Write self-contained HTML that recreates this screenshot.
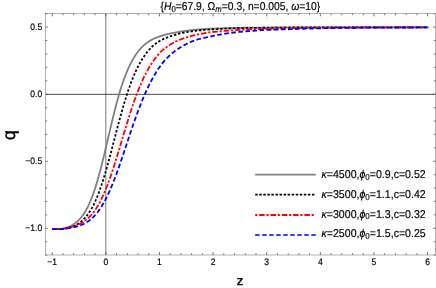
<!DOCTYPE html>
<html><head><meta charset="utf-8"><title>plot</title>
<style>
html,body{margin:0;padding:0;background:#fff;}
body{width:436px;height:288px;overflow:hidden;font-family:"Liberation Sans",sans-serif;}
svg{display:block;will-change:transform;}
text{text-rendering:geometricPrecision;font-family:"Liberation Sans",sans-serif;fill:#000;}
.tl{font-size:9.4px;stroke:#000;stroke-width:0.17px;}
.lg{font-size:11.4px;stroke:#000;stroke-width:0.17px;}
.it{font-style:italic;}
</style></head><body>
<svg width="436" height="288" viewBox="0 0 436 288">
<rect x="0" y="0" width="436" height="288" fill="#fff"/>

<line x1="105.82" y1="13.5" x2="105.82" y2="255.0" stroke="#666" stroke-width="0.88"/>
<line x1="45.5" y1="94.35" x2="435.5" y2="94.35" stroke="#2a2a2a" stroke-width="0.85"/>
<g fill="none" stroke-width="1.8" stroke-linejoin="round">
<path d="M52.30,229.00 L52.48,229.03 L52.84,229.05 L53.20,229.08 L53.56,229.09 L53.92,229.11 L54.28,229.13 L54.64,229.14 L55.00,229.15 L55.36,229.15 L55.72,229.16 L56.08,229.16 L56.44,229.16 L56.81,229.15 L57.17,229.14 L57.53,229.13 L57.89,229.12 L58.25,229.10 L58.61,229.08 L58.97,229.06 L59.33,229.03 L59.69,229.01 L60.05,228.97 L60.41,228.94 L60.77,228.90 L61.13,228.85 L61.49,228.80 L61.86,228.75 L62.22,228.69 L62.58,228.63 L62.94,228.56 L63.30,228.48 L63.66,228.40 L64.02,228.32 L64.38,228.23 L64.74,228.13 L65.10,228.03 L65.46,227.93 L65.82,227.82 L66.18,227.70 L66.54,227.59 L66.90,227.46 L67.27,227.34 L67.63,227.21 L67.99,227.07 L68.35,226.93 L68.71,226.78 L69.07,226.63 L69.43,226.47 L69.79,226.31 L70.15,226.14 L70.51,225.96 L70.87,225.78 L71.23,225.60 L71.59,225.40 L71.95,225.21 L72.32,225.00 L72.68,224.79 L73.04,224.57 L73.40,224.34 L73.76,224.11 L74.12,223.87 L74.48,223.62 L74.84,223.36 L75.20,223.10 L75.56,222.83 L75.92,222.55 L76.28,222.26 L76.64,221.96 L77.00,221.65 L77.37,221.34 L77.73,221.01 L78.09,220.68 L78.45,220.33 L78.81,219.97 L79.17,219.61 L79.53,219.23 L79.89,218.84 L80.25,218.44 L80.61,218.03 L80.97,217.60 L81.33,217.17 L81.69,216.72 L82.05,216.25 L82.42,215.78 L82.78,215.29 L83.14,214.78 L83.50,214.26 L83.86,213.73 L84.22,213.18 L84.58,212.62 L84.94,212.04 L85.30,211.44 L85.66,210.83 L86.02,210.20 L86.38,209.56 L86.74,208.90 L87.10,208.22 L87.46,207.53 L87.83,206.81 L88.19,206.08 L88.55,205.33 L88.91,204.56 L89.27,203.78 L89.63,202.97 L89.99,202.15 L90.35,201.31 L90.71,200.44 L91.07,199.56 L91.43,198.66 L91.79,197.74 L92.15,196.80 L92.51,195.83 L92.88,194.85 L93.24,193.85 L93.60,192.82 L93.96,191.78 L94.32,190.72 L94.68,189.63 L95.04,188.52 L95.40,187.40 L95.76,186.25 L96.12,185.09 L96.48,183.90 L96.84,182.70 L97.20,181.47 L97.56,180.23 L97.93,178.97 L98.29,177.69 L98.65,176.40 L99.01,175.09 L99.37,173.76 L99.73,172.41 L100.09,171.05 L100.45,169.68 L100.81,168.29 L101.17,166.88 L101.53,165.47 L101.89,164.04 L102.25,162.60 L102.61,161.15 L102.98,159.68 L103.34,158.21 L103.70,156.73 L104.06,155.24 L104.42,153.74 L104.78,152.24 L105.14,150.72 L105.50,149.21 L106.31,145.78 L107.12,142.34 L107.92,138.89 L108.73,135.43 L109.54,131.98 L110.35,128.55 L111.16,125.14 L111.97,121.76 L112.77,118.42 L113.58,115.12 L114.39,111.88 L115.20,108.70 L116.01,105.57 L116.82,102.52 L117.62,99.54 L118.43,96.64 L119.24,93.82 L120.05,91.10 L120.86,88.48 L121.67,85.95 L122.47,83.51 L123.28,81.16 L124.09,78.90 L124.90,76.73 L125.71,74.65 L126.52,72.65 L127.32,70.73 L128.13,68.88 L128.94,67.11 L129.75,65.41 L130.56,63.77 L131.36,62.19 L132.17,60.68 L132.98,59.22 L133.79,57.84 L134.60,56.51 L135.41,55.25 L136.21,54.04 L137.02,52.90 L137.83,51.81 L138.64,50.78 L139.45,49.80 L140.26,48.88 L141.06,48.00 L141.87,47.16 L142.68,46.37 L143.49,45.62 L144.30,44.91 L145.11,44.23 L145.91,43.59 L146.72,42.98 L147.53,42.39 L148.34,41.84 L149.15,41.31 L149.95,40.80 L150.76,40.33 L151.57,39.88 L152.38,39.45 L153.19,39.04 L154.00,38.65 L154.80,38.28 L155.61,37.93 L156.42,37.59 L157.23,37.27 L158.04,36.96 L158.85,36.67 L159.65,36.38 L160.46,36.11 L161.27,35.85 L162.08,35.59 L162.89,35.35 L163.70,35.11 L164.50,34.89 L165.31,34.68 L166.12,34.47 L166.93,34.28 L167.74,34.09 L168.55,33.91 L169.35,33.73 L170.16,33.56 L170.97,33.39 L171.78,33.23 L172.59,33.08 L173.39,32.92 L174.20,32.77 L175.01,32.61 L175.82,32.46 L176.63,32.31 L177.44,32.17 L178.24,32.02 L179.05,31.88 L179.86,31.74 L180.67,31.61 L181.48,31.48 L182.29,31.36 L183.09,31.24 L183.90,31.12 L184.71,31.01 L185.52,30.90 L186.33,30.78 L187.14,30.67 L187.94,30.57 L188.75,30.46 L189.56,30.36 L190.37,30.27 L191.18,30.17 L191.98,30.08 L192.79,29.99 L193.60,29.91 L194.41,29.83 L195.22,29.76 L196.03,29.69 L196.83,29.62 L197.64,29.56 L198.45,29.49 L199.26,29.43 L200.07,29.37 L200.88,29.32 L201.68,29.26 L202.49,29.21 L203.30,29.16 L204.11,29.11 L204.92,29.06 L205.73,29.02 L206.53,28.97 L207.34,28.93 L208.15,28.89 L208.96,28.84 L209.77,28.80 L210.58,28.76 L211.38,28.73 L212.19,28.69 L213.00,28.65 L213.81,28.61 L214.62,28.58 L215.42,28.54 L216.23,28.51 L217.04,28.47 L217.85,28.44 L218.66,28.41 L219.47,28.38 L220.27,28.34 L221.08,28.31 L221.89,28.28 L222.70,28.25 L223.51,28.23 L224.32,28.20 L225.12,28.17 L225.93,28.14 L226.74,28.12 L227.55,28.09 L228.36,28.07 L229.17,28.05 L229.97,28.02 L230.78,28.00 L231.59,27.98 L232.40,27.96 L233.21,27.94 L234.02,27.92 L234.82,27.90 L235.63,27.89 L236.44,27.87 L237.25,27.86 L238.06,27.84 L238.86,27.83 L239.67,27.82 L240.48,27.81 L241.29,27.80 L242.10,27.79 L242.91,27.78 L243.71,27.77 L244.52,27.76 L245.33,27.75 L246.14,27.74 L246.95,27.73 L247.76,27.72 L248.56,27.72 L249.37,27.71 L250.18,27.70 L250.99,27.69 L251.80,27.68 L252.61,27.68 L253.41,27.67 L254.22,27.66 L255.03,27.66 L255.84,27.65 L256.65,27.64 L257.45,27.64 L258.26,27.63 L259.07,27.62 L259.88,27.62 L260.69,27.61 L261.50,27.60 L262.30,27.60 L263.11,27.59 L263.92,27.59 L264.73,27.58 L265.54,27.57 L266.35,27.57 L267.15,27.56 L267.96,27.56 L268.77,27.55 L269.58,27.55 L270.39,27.54 L271.20,27.54 L272.00,27.53 L272.81,27.53 L273.62,27.52 L274.43,27.51 L275.24,27.51 L276.05,27.51 L276.85,27.50 L277.66,27.50 L278.47,27.49 L279.28,27.49 L280.09,27.48 L280.89,27.48 L281.70,27.47 L282.51,27.47 L283.32,27.47 L284.13,27.46 L284.94,27.46 L285.74,27.45 L286.55,27.45 L287.36,27.45 L288.17,27.44 L288.98,27.44 L289.79,27.44 L290.59,27.44 L291.40,27.43 L292.21,27.43 L293.02,27.43 L293.83,27.43 L294.64,27.42 L295.44,27.42 L296.25,27.42 L297.06,27.42 L297.87,27.42 L298.68,27.41 L299.48,27.41 L300.29,27.41 L301.10,27.41 L301.91,27.41 L302.72,27.41 L303.53,27.41 L304.33,27.41 L305.14,27.41 L305.95,27.40 L306.76,27.40 L307.57,27.40 L308.38,27.40 L309.18,27.40 L309.99,27.40 L310.80,27.40 L311.61,27.40 L312.42,27.40 L313.23,27.40 L314.03,27.40 L314.84,27.40 L315.65,27.39 L316.46,27.39 L317.27,27.39 L318.08,27.39 L318.88,27.39 L319.69,27.39 L320.50,27.39 L321.31,27.39 L322.12,27.39 L322.92,27.39 L323.73,27.39 L324.54,27.39 L325.35,27.39 L326.16,27.39 L326.97,27.39 L327.77,27.39 L328.58,27.39 L329.39,27.38 L330.20,27.38 L331.01,27.38 L331.82,27.38 L332.62,27.38 L333.43,27.38 L334.24,27.38 L335.05,27.38 L335.86,27.38 L336.67,27.38 L337.47,27.38 L338.28,27.38 L339.09,27.38 L339.90,27.38 L340.71,27.38 L341.52,27.38 L342.32,27.38 L343.13,27.38 L343.94,27.38 L344.75,27.38 L345.56,27.38 L346.36,27.38 L347.17,27.38 L347.98,27.38 L348.79,27.37 L349.60,27.37 L350.41,27.37 L351.21,27.37 L352.02,27.37 L352.83,27.37 L353.64,27.37 L354.45,27.37 L355.26,27.37 L356.06,27.37 L356.87,27.37 L357.68,27.37 L358.49,27.37 L359.30,27.37 L360.11,27.37 L360.91,27.37 L361.72,27.37 L362.53,27.37 L363.34,27.37 L364.15,27.37 L364.95,27.37 L365.76,27.37 L366.57,27.37 L367.38,27.37 L368.19,27.37 L369.00,27.37 L369.80,27.37 L370.61,27.37 L371.42,27.37 L372.23,27.37 L373.04,27.37 L373.85,27.37 L374.65,27.37 L375.46,27.37 L376.27,27.37 L377.08,27.37 L377.89,27.37 L378.70,27.37 L379.50,27.37 L380.31,27.37 L381.12,27.37 L381.93,27.37 L382.74,27.37 L383.55,27.37 L384.35,27.37 L385.16,27.37 L385.97,27.36 L386.78,27.36 L387.59,27.36 L388.39,27.36 L389.20,27.36 L390.01,27.36 L390.82,27.36 L391.63,27.36 L392.44,27.36 L393.24,27.36 L394.05,27.36 L394.86,27.36 L395.67,27.36 L396.48,27.36 L397.29,27.36 L398.09,27.36 L398.90,27.36 L399.71,27.36 L400.52,27.36 L401.33,27.36 L402.14,27.36 L402.94,27.36 L403.75,27.36 L404.56,27.36 L405.37,27.36 L406.18,27.36 L406.98,27.36 L407.79,27.36 L408.60,27.36 L409.41,27.36 L410.22,27.36 L411.03,27.36 L411.83,27.36 L412.64,27.36 L413.45,27.36 L414.26,27.36 L415.07,27.36 L415.88,27.36 L416.68,27.36 L417.49,27.36 L418.30,27.36 L419.11,27.36 L419.92,27.36 L420.73,27.36 L421.53,27.36 L422.34,27.36 L423.15,27.36 L423.96,27.36 L424.77,27.36 L425.58,27.36 L426.38,27.36 L427.19,27.36 L428.00,27.36 L428.60,27.36" stroke="#808080"/>
<path d="M52.30,229.00 L52.48,229.03 L52.84,229.06 L53.20,229.08 L53.56,229.10 L53.92,229.12 L54.28,229.14 L54.64,229.15 L55.00,229.17 L55.36,229.18 L55.72,229.19 L56.08,229.20 L56.44,229.21 L56.81,229.21 L57.17,229.21 L57.53,229.21 L57.89,229.21 L58.25,229.20 L58.61,229.20 L58.97,229.19 L59.33,229.18 L59.69,229.17 L60.05,229.16 L60.41,229.14 L60.77,229.12 L61.13,229.10 L61.49,229.08 L61.86,229.05 L62.22,229.01 L62.58,228.98 L62.94,228.94 L63.30,228.89 L63.66,228.84 L64.02,228.79 L64.38,228.73 L64.74,228.67 L65.10,228.60 L65.46,228.54 L65.82,228.47 L66.18,228.39 L66.54,228.32 L66.90,228.24 L67.27,228.16 L67.63,228.07 L67.99,227.98 L68.35,227.89 L68.71,227.79 L69.07,227.69 L69.43,227.59 L69.79,227.48 L70.15,227.37 L70.51,227.26 L70.87,227.14 L71.23,227.02 L71.59,226.89 L71.95,226.76 L72.32,226.63 L72.68,226.49 L73.04,226.34 L73.40,226.19 L73.76,226.04 L74.12,225.88 L74.48,225.71 L74.84,225.54 L75.20,225.37 L75.56,225.19 L75.92,225.00 L76.28,224.81 L76.64,224.61 L77.00,224.41 L77.37,224.19 L77.73,223.98 L78.09,223.75 L78.45,223.52 L78.81,223.29 L79.17,223.04 L79.53,222.79 L79.89,222.53 L80.25,222.26 L80.61,221.99 L80.97,221.70 L81.33,221.41 L81.69,221.11 L82.05,220.80 L82.42,220.48 L82.78,220.15 L83.14,219.81 L83.50,219.46 L83.86,219.10 L84.22,218.73 L84.58,218.35 L84.94,217.96 L85.30,217.56 L85.66,217.15 L86.02,216.72 L86.38,216.29 L86.74,215.84 L87.10,215.38 L87.46,214.91 L87.83,214.43 L88.19,213.93 L88.55,213.42 L88.91,212.90 L89.27,212.36 L89.63,211.81 L89.99,211.25 L90.35,210.67 L90.71,210.08 L91.07,209.48 L91.43,208.86 L91.79,208.22 L92.15,207.57 L92.51,206.91 L92.88,206.23 L93.24,205.53 L93.60,204.82 L93.96,204.09 L94.32,203.34 L94.68,202.58 L95.04,201.80 L95.40,201.00 L95.76,200.19 L96.12,199.36 L96.48,198.52 L96.84,197.65 L97.20,196.78 L97.56,195.88 L97.93,194.97 L98.29,194.04 L98.65,193.09 L99.01,192.13 L99.37,191.16 L99.73,190.16 L100.09,189.15 L100.45,188.13 L100.81,187.09 L101.17,186.03 L101.53,184.96 L101.89,183.87 L102.25,182.77 L102.61,181.66 L102.98,180.53 L103.34,179.38 L103.70,178.23 L104.06,177.06 L104.42,175.87 L104.78,174.67 L105.14,173.46 L105.50,172.24 L106.31,169.45 L107.12,166.61 L107.92,163.71 L108.73,160.77 L109.54,157.78 L110.35,154.75 L111.16,151.70 L111.97,148.61 L112.77,145.52 L113.58,142.41 L114.39,139.29 L115.20,136.18 L116.01,133.07 L116.82,129.98 L117.62,126.90 L118.43,123.86 L119.24,120.84 L120.05,117.86 L120.86,114.91 L121.67,112.02 L122.47,109.17 L123.28,106.37 L124.09,103.63 L124.90,100.95 L125.71,98.32 L126.52,95.77 L127.32,93.27 L128.13,90.84 L128.94,88.48 L129.75,86.19 L130.56,83.96 L131.36,81.80 L132.17,79.71 L132.98,77.69 L133.79,75.74 L134.60,73.85 L135.41,72.03 L136.21,70.27 L137.02,68.58 L137.83,66.95 L138.64,65.38 L139.45,63.86 L140.26,62.41 L141.06,61.01 L141.87,59.67 L142.68,58.38 L143.49,57.14 L144.30,55.95 L145.11,54.81 L145.91,53.72 L146.72,52.67 L147.53,51.66 L148.34,50.70 L149.15,49.77 L149.95,48.89 L150.76,48.04 L151.57,47.22 L152.38,46.44 L153.19,45.70 L154.00,44.98 L154.80,44.29 L155.61,43.64 L156.42,43.02 L157.23,42.45 L158.04,41.90 L158.85,41.39 L159.65,40.91 L160.46,40.45 L161.27,40.02 L162.08,39.62 L162.89,39.23 L163.70,38.87 L164.50,38.52 L165.31,38.19 L166.12,37.87 L166.93,37.56 L167.74,37.27 L168.55,36.98 L169.35,36.70 L170.16,36.42 L170.97,36.14 L171.78,35.87 L172.59,35.60 L173.39,35.34 L174.20,35.08 L175.01,34.84 L175.82,34.60 L176.63,34.37 L177.44,34.15 L178.24,33.93 L179.05,33.72 L179.86,33.52 L180.67,33.32 L181.48,33.14 L182.29,32.96 L183.09,32.79 L183.90,32.63 L184.71,32.48 L185.52,32.33 L186.33,32.19 L187.14,32.05 L187.94,31.92 L188.75,31.80 L189.56,31.67 L190.37,31.56 L191.18,31.44 L191.98,31.33 L192.79,31.22 L193.60,31.11 L194.41,31.01 L195.22,30.91 L196.03,30.80 L196.83,30.71 L197.64,30.61 L198.45,30.52 L199.26,30.43 L200.07,30.34 L200.88,30.26 L201.68,30.18 L202.49,30.10 L203.30,30.02 L204.11,29.95 L204.92,29.88 L205.73,29.81 L206.53,29.74 L207.34,29.67 L208.15,29.61 L208.96,29.55 L209.77,29.49 L210.58,29.43 L211.38,29.38 L212.19,29.33 L213.00,29.27 L213.81,29.23 L214.62,29.18 L215.42,29.13 L216.23,29.09 L217.04,29.04 L217.85,29.00 L218.66,28.96 L219.47,28.92 L220.27,28.89 L221.08,28.85 L221.89,28.81 L222.70,28.78 L223.51,28.74 L224.32,28.71 L225.12,28.68 L225.93,28.65 L226.74,28.62 L227.55,28.58 L228.36,28.55 L229.17,28.52 L229.97,28.49 L230.78,28.47 L231.59,28.44 L232.40,28.41 L233.21,28.38 L234.02,28.35 L234.82,28.33 L235.63,28.30 L236.44,28.28 L237.25,28.25 L238.06,28.23 L238.86,28.20 L239.67,28.18 L240.48,28.16 L241.29,28.14 L242.10,28.12 L242.91,28.09 L243.71,28.07 L244.52,28.06 L245.33,28.04 L246.14,28.02 L246.95,28.00 L247.76,27.99 L248.56,27.97 L249.37,27.96 L250.18,27.94 L250.99,27.93 L251.80,27.92 L252.61,27.90 L253.41,27.89 L254.22,27.88 L255.03,27.87 L255.84,27.86 L256.65,27.84 L257.45,27.83 L258.26,27.82 L259.07,27.81 L259.88,27.80 L260.69,27.79 L261.50,27.78 L262.30,27.77 L263.11,27.76 L263.92,27.75 L264.73,27.75 L265.54,27.74 L266.35,27.73 L267.15,27.72 L267.96,27.71 L268.77,27.70 L269.58,27.69 L270.39,27.68 L271.20,27.68 L272.00,27.67 L272.81,27.66 L273.62,27.65 L274.43,27.65 L275.24,27.64 L276.05,27.63 L276.85,27.62 L277.66,27.62 L278.47,27.61 L279.28,27.60 L280.09,27.60 L280.89,27.59 L281.70,27.58 L282.51,27.58 L283.32,27.57 L284.13,27.56 L284.94,27.56 L285.74,27.55 L286.55,27.55 L287.36,27.54 L288.17,27.54 L288.98,27.53 L289.79,27.53 L290.59,27.52 L291.40,27.52 L292.21,27.51 L293.02,27.51 L293.83,27.51 L294.64,27.50 L295.44,27.50 L296.25,27.49 L297.06,27.49 L297.87,27.49 L298.68,27.49 L299.48,27.48 L300.29,27.48 L301.10,27.48 L301.91,27.48 L302.72,27.47 L303.53,27.47 L304.33,27.47 L305.14,27.47 L305.95,27.47 L306.76,27.46 L307.57,27.46 L308.38,27.46 L309.18,27.46 L309.99,27.46 L310.80,27.45 L311.61,27.45 L312.42,27.45 L313.23,27.45 L314.03,27.45 L314.84,27.45 L315.65,27.44 L316.46,27.44 L317.27,27.44 L318.08,27.44 L318.88,27.44 L319.69,27.44 L320.50,27.44 L321.31,27.43 L322.12,27.43 L322.92,27.43 L323.73,27.43 L324.54,27.43 L325.35,27.43 L326.16,27.43 L326.97,27.42 L327.77,27.42 L328.58,27.42 L329.39,27.42 L330.20,27.42 L331.01,27.42 L331.82,27.42 L332.62,27.42 L333.43,27.42 L334.24,27.42 L335.05,27.41 L335.86,27.41 L336.67,27.41 L337.47,27.41 L338.28,27.41 L339.09,27.41 L339.90,27.41 L340.71,27.41 L341.52,27.41 L342.32,27.41 L343.13,27.41 L343.94,27.40 L344.75,27.40 L345.56,27.40 L346.36,27.40 L347.17,27.40 L347.98,27.40 L348.79,27.40 L349.60,27.40 L350.41,27.40 L351.21,27.40 L352.02,27.40 L352.83,27.40 L353.64,27.40 L354.45,27.40 L355.26,27.39 L356.06,27.39 L356.87,27.39 L357.68,27.39 L358.49,27.39 L359.30,27.39 L360.11,27.39 L360.91,27.39 L361.72,27.39 L362.53,27.39 L363.34,27.39 L364.15,27.39 L364.95,27.39 L365.76,27.39 L366.57,27.39 L367.38,27.39 L368.19,27.39 L369.00,27.39 L369.80,27.39 L370.61,27.39 L371.42,27.38 L372.23,27.38 L373.04,27.38 L373.85,27.38 L374.65,27.38 L375.46,27.38 L376.27,27.38 L377.08,27.38 L377.89,27.38 L378.70,27.38 L379.50,27.38 L380.31,27.38 L381.12,27.38 L381.93,27.38 L382.74,27.38 L383.55,27.38 L384.35,27.38 L385.16,27.38 L385.97,27.38 L386.78,27.38 L387.59,27.38 L388.39,27.38 L389.20,27.38 L390.01,27.38 L390.82,27.38 L391.63,27.38 L392.44,27.38 L393.24,27.38 L394.05,27.38 L394.86,27.37 L395.67,27.37 L396.48,27.37 L397.29,27.37 L398.09,27.37 L398.90,27.37 L399.71,27.37 L400.52,27.37 L401.33,27.37 L402.14,27.37 L402.94,27.37 L403.75,27.37 L404.56,27.37 L405.37,27.37 L406.18,27.37 L406.98,27.37 L407.79,27.37 L408.60,27.37 L409.41,27.37 L410.22,27.37 L411.03,27.37 L411.83,27.37 L412.64,27.37 L413.45,27.37 L414.26,27.37 L415.07,27.37 L415.88,27.37 L416.68,27.37 L417.49,27.37 L418.30,27.37 L419.11,27.37 L419.92,27.37 L420.73,27.37 L421.53,27.37 L422.34,27.37 L423.15,27.37 L423.96,27.37 L424.77,27.37 L425.58,27.37 L426.38,27.37 L427.19,27.37 L428.00,27.37 L428.60,27.37" stroke="#000" stroke-dasharray="2.4 1.85"/>
<path d="M52.30,229.00 L52.48,229.03 L52.84,229.05 L53.20,229.07 L53.56,229.08 L53.92,229.10 L54.28,229.11 L54.64,229.12 L55.00,229.13 L55.36,229.13 L55.72,229.13 L56.08,229.13 L56.44,229.13 L56.81,229.12 L57.17,229.12 L57.53,229.11 L57.89,229.10 L58.25,229.08 L58.61,229.07 L58.97,229.06 L59.33,229.04 L59.69,229.02 L60.05,229.00 L60.41,228.98 L60.77,228.95 L61.13,228.92 L61.49,228.89 L61.86,228.86 L62.22,228.82 L62.58,228.78 L62.94,228.74 L63.30,228.69 L63.66,228.64 L64.02,228.58 L64.38,228.53 L64.74,228.47 L65.10,228.40 L65.46,228.34 L65.82,228.28 L66.18,228.21 L66.54,228.14 L66.90,228.07 L67.27,228.00 L67.63,227.92 L67.99,227.84 L68.35,227.76 L68.71,227.68 L69.07,227.60 L69.43,227.51 L69.79,227.43 L70.15,227.34 L70.51,227.24 L70.87,227.15 L71.23,227.05 L71.59,226.95 L71.95,226.85 L72.32,226.74 L72.68,226.64 L73.04,226.53 L73.40,226.41 L73.76,226.30 L74.12,226.18 L74.48,226.06 L74.84,225.93 L75.20,225.80 L75.56,225.67 L75.92,225.54 L76.28,225.40 L76.64,225.25 L77.00,225.11 L77.37,224.96 L77.73,224.81 L78.09,224.65 L78.45,224.49 L78.81,224.32 L79.17,224.15 L79.53,223.98 L79.89,223.80 L80.25,223.62 L80.61,223.43 L80.97,223.24 L81.33,223.04 L81.69,222.83 L82.05,222.63 L82.42,222.41 L82.78,222.19 L83.14,221.96 L83.50,221.73 L83.86,221.49 L84.22,221.24 L84.58,220.99 L84.94,220.73 L85.30,220.47 L85.66,220.19 L86.02,219.91 L86.38,219.63 L86.74,219.33 L87.10,219.03 L87.46,218.72 L87.83,218.40 L88.19,218.08 L88.55,217.75 L88.91,217.40 L89.27,217.05 L89.63,216.69 L89.99,216.33 L90.35,215.95 L90.71,215.56 L91.07,215.17 L91.43,214.77 L91.79,214.35 L92.15,213.93 L92.51,213.49 L92.88,213.05 L93.24,212.59 L93.60,212.12 L93.96,211.65 L94.32,211.16 L94.68,210.65 L95.04,210.14 L95.40,209.62 L95.76,209.08 L96.12,208.53 L96.48,207.98 L96.84,207.40 L97.20,206.82 L97.56,206.23 L97.93,205.62 L98.29,205.00 L98.65,204.37 L99.01,203.72 L99.37,203.07 L99.73,202.40 L100.09,201.72 L100.45,201.02 L100.81,200.32 L101.17,199.60 L101.53,198.87 L101.89,198.13 L102.25,197.37 L102.61,196.60 L102.98,195.82 L103.34,195.03 L103.70,194.23 L104.06,193.41 L104.42,192.58 L104.78,191.74 L105.14,190.89 L105.50,190.02 L106.31,188.03 L107.12,185.97 L107.92,183.86 L108.73,181.68 L109.54,179.45 L110.35,177.16 L111.16,174.81 L111.97,172.41 L112.77,169.97 L113.58,167.48 L114.39,164.95 L115.20,162.38 L116.01,159.78 L116.82,157.15 L117.62,154.50 L118.43,151.82 L119.24,149.13 L120.05,146.42 L120.86,143.71 L121.67,140.99 L122.47,138.27 L123.28,135.56 L124.09,132.86 L124.90,130.17 L125.71,127.49 L126.52,124.84 L127.32,122.21 L128.13,119.61 L128.94,117.04 L129.75,114.50 L130.56,112.00 L131.36,109.54 L132.17,107.12 L132.98,104.74 L133.79,102.40 L134.60,100.11 L135.41,97.87 L136.21,95.68 L137.02,93.54 L137.83,91.45 L138.64,89.40 L139.45,87.41 L140.26,85.47 L141.06,83.59 L141.87,81.75 L142.68,79.97 L143.49,78.23 L144.30,76.55 L145.11,74.91 L145.91,73.33 L146.72,71.79 L147.53,70.31 L148.34,68.86 L149.15,67.47 L149.95,66.12 L150.76,64.81 L151.57,63.55 L152.38,62.33 L153.19,61.15 L154.00,60.01 L154.80,58.90 L155.61,57.84 L156.42,56.81 L157.23,55.82 L158.04,54.86 L158.85,53.94 L159.65,53.05 L160.46,52.19 L161.27,51.39 L162.08,50.63 L162.89,49.91 L163.70,49.24 L164.50,48.60 L165.31,47.99 L166.12,47.41 L166.93,46.86 L167.74,46.32 L168.55,45.80 L169.35,45.29 L170.16,44.79 L170.97,44.30 L171.78,43.81 L172.59,43.32 L173.39,42.86 L174.20,42.41 L175.01,41.98 L175.82,41.56 L176.63,41.17 L177.44,40.79 L178.24,40.42 L179.05,40.07 L179.86,39.73 L180.67,39.40 L181.48,39.09 L182.29,38.79 L183.09,38.50 L183.90,38.22 L184.71,37.95 L185.52,37.69 L186.33,37.43 L187.14,37.19 L187.94,36.95 L188.75,36.72 L189.56,36.50 L190.37,36.29 L191.18,36.08 L191.98,35.87 L192.79,35.67 L193.60,35.48 L194.41,35.29 L195.22,35.10 L196.03,34.92 L196.83,34.74 L197.64,34.56 L198.45,34.39 L199.26,34.22 L200.07,34.06 L200.88,33.90 L201.68,33.74 L202.49,33.58 L203.30,33.43 L204.11,33.28 L204.92,33.14 L205.73,33.00 L206.53,32.86 L207.34,32.73 L208.15,32.60 L208.96,32.48 L209.77,32.36 L210.58,32.26 L211.38,32.16 L212.19,32.07 L213.00,31.98 L213.81,31.90 L214.62,31.82 L215.42,31.74 L216.23,31.67 L217.04,31.59 L217.85,31.52 L218.66,31.45 L219.47,31.38 L220.27,31.31 L221.08,31.24 L221.89,31.18 L222.70,31.11 L223.51,31.04 L224.32,30.97 L225.12,30.90 L225.93,30.83 L226.74,30.76 L227.55,30.70 L228.36,30.63 L229.17,30.57 L229.97,30.51 L230.78,30.45 L231.59,30.39 L232.40,30.33 L233.21,30.27 L234.02,30.22 L234.82,30.16 L235.63,30.11 L236.44,30.06 L237.25,30.01 L238.06,29.96 L238.86,29.91 L239.67,29.87 L240.48,29.82 L241.29,29.78 L242.10,29.74 L242.91,29.70 L243.71,29.66 L244.52,29.62 L245.33,29.59 L246.14,29.55 L246.95,29.52 L247.76,29.49 L248.56,29.46 L249.37,29.43 L250.18,29.40 L250.99,29.38 L251.80,29.35 L252.61,29.32 L253.41,29.30 L254.22,29.27 L255.03,29.24 L255.84,29.21 L256.65,29.19 L257.45,29.16 L258.26,29.13 L259.07,29.10 L259.88,29.08 L260.69,29.05 L261.50,29.02 L262.30,28.99 L263.11,28.97 L263.92,28.94 L264.73,28.91 L265.54,28.88 L266.35,28.86 L267.15,28.83 L267.96,28.81 L268.77,28.78 L269.58,28.75 L270.39,28.73 L271.20,28.71 L272.00,28.68 L272.81,28.66 L273.62,28.64 L274.43,28.61 L275.24,28.59 L276.05,28.57 L276.85,28.55 L277.66,28.53 L278.47,28.51 L279.28,28.50 L280.09,28.48 L280.89,28.46 L281.70,28.44 L282.51,28.43 L283.32,28.41 L284.13,28.39 L284.94,28.37 L285.74,28.36 L286.55,28.34 L287.36,28.32 L288.17,28.31 L288.98,28.29 L289.79,28.28 L290.59,28.26 L291.40,28.25 L292.21,28.23 L293.02,28.21 L293.83,28.20 L294.64,28.18 L295.44,28.17 L296.25,28.16 L297.06,28.14 L297.87,28.13 L298.68,28.11 L299.48,28.10 L300.29,28.09 L301.10,28.07 L301.91,28.06 L302.72,28.05 L303.53,28.03 L304.33,28.02 L305.14,28.01 L305.95,27.99 L306.76,27.98 L307.57,27.97 L308.38,27.96 L309.18,27.95 L309.99,27.93 L310.80,27.92 L311.61,27.91 L312.42,27.90 L313.23,27.89 L314.03,27.88 L314.84,27.87 L315.65,27.86 L316.46,27.85 L317.27,27.84 L318.08,27.83 L318.88,27.82 L319.69,27.81 L320.50,27.80 L321.31,27.79 L322.12,27.78 L322.92,27.77 L323.73,27.76 L324.54,27.75 L325.35,27.75 L326.16,27.74 L326.97,27.73 L327.77,27.72 L328.58,27.72 L329.39,27.71 L330.20,27.70 L331.01,27.69 L331.82,27.69 L332.62,27.68 L333.43,27.67 L334.24,27.67 L335.05,27.66 L335.86,27.66 L336.67,27.65 L337.47,27.64 L338.28,27.64 L339.09,27.63 L339.90,27.63 L340.71,27.62 L341.52,27.61 L342.32,27.61 L343.13,27.60 L343.94,27.60 L344.75,27.59 L345.56,27.58 L346.36,27.58 L347.17,27.57 L347.98,27.57 L348.79,27.56 L349.60,27.56 L350.41,27.55 L351.21,27.55 L352.02,27.54 L352.83,27.54 L353.64,27.53 L354.45,27.53 L355.26,27.52 L356.06,27.52 L356.87,27.51 L357.68,27.51 L358.49,27.51 L359.30,27.50 L360.11,27.50 L360.91,27.49 L361.72,27.49 L362.53,27.49 L363.34,27.48 L364.15,27.48 L364.95,27.47 L365.76,27.47 L366.57,27.47 L367.38,27.47 L368.19,27.46 L369.00,27.46 L369.80,27.46 L370.61,27.45 L371.42,27.45 L372.23,27.45 L373.04,27.45 L373.85,27.44 L374.65,27.44 L375.46,27.44 L376.27,27.44 L377.08,27.44 L377.89,27.44 L378.70,27.43 L379.50,27.43 L380.31,27.43 L381.12,27.43 L381.93,27.43 L382.74,27.43 L383.55,27.43 L384.35,27.43 L385.16,27.43 L385.97,27.43 L386.78,27.42 L387.59,27.42 L388.39,27.42 L389.20,27.42 L390.01,27.42 L390.82,27.42 L391.63,27.42 L392.44,27.42 L393.24,27.42 L394.05,27.42 L394.86,27.42 L395.67,27.42 L396.48,27.41 L397.29,27.41 L398.09,27.41 L398.90,27.41 L399.71,27.41 L400.52,27.41 L401.33,27.41 L402.14,27.41 L402.94,27.41 L403.75,27.41 L404.56,27.41 L405.37,27.41 L406.18,27.41 L406.98,27.41 L407.79,27.40 L408.60,27.40 L409.41,27.40 L410.22,27.40 L411.03,27.40 L411.83,27.40 L412.64,27.40 L413.45,27.40 L414.26,27.40 L415.07,27.40 L415.88,27.40 L416.68,27.40 L417.49,27.40 L418.30,27.40 L419.11,27.40 L419.92,27.40 L420.73,27.40 L421.53,27.40 L422.34,27.40 L423.15,27.39 L423.96,27.39 L424.77,27.39 L425.58,27.39 L426.38,27.39 L427.19,27.39 L428.00,27.39 L428.60,27.39" stroke="#f00" stroke-dasharray="2.2 1.9 5.5 1.8"/>
<path d="M52.30,229.00 L52.48,229.03 L52.84,229.05 L53.20,229.07 L53.56,229.08 L53.92,229.09 L54.28,229.11 L54.64,229.12 L55.00,229.13 L55.36,229.13 L55.72,229.14 L56.08,229.14 L56.44,229.14 L56.81,229.14 L57.17,229.14 L57.53,229.13 L57.89,229.13 L58.25,229.13 L58.61,229.12 L58.97,229.11 L59.33,229.10 L59.69,229.10 L60.05,229.08 L60.41,229.07 L60.77,229.06 L61.13,229.04 L61.49,229.02 L61.86,229.00 L62.22,228.98 L62.58,228.96 L62.94,228.93 L63.30,228.90 L63.66,228.86 L64.02,228.83 L64.38,228.79 L64.74,228.75 L65.10,228.70 L65.46,228.66 L65.82,228.62 L66.18,228.57 L66.54,228.53 L66.90,228.48 L67.27,228.43 L67.63,228.38 L67.99,228.33 L68.35,228.27 L68.71,228.22 L69.07,228.16 L69.43,228.11 L69.79,228.05 L70.15,227.99 L70.51,227.92 L70.87,227.86 L71.23,227.79 L71.59,227.73 L71.95,227.66 L72.32,227.58 L72.68,227.51 L73.04,227.44 L73.40,227.36 L73.76,227.28 L74.12,227.20 L74.48,227.11 L74.84,227.03 L75.20,226.94 L75.56,226.85 L75.92,226.75 L76.28,226.66 L76.64,226.56 L77.00,226.46 L77.37,226.35 L77.73,226.24 L78.09,226.13 L78.45,226.02 L78.81,225.90 L79.17,225.78 L79.53,225.66 L79.89,225.53 L80.25,225.40 L80.61,225.26 L80.97,225.13 L81.33,224.98 L81.69,224.83 L82.05,224.68 L82.42,224.52 L82.78,224.36 L83.14,224.20 L83.50,224.02 L83.86,223.85 L84.22,223.67 L84.58,223.48 L84.94,223.29 L85.30,223.09 L85.66,222.89 L86.02,222.68 L86.38,222.46 L86.74,222.24 L87.10,222.02 L87.46,221.79 L87.83,221.55 L88.19,221.30 L88.55,221.05 L88.91,220.79 L89.27,220.53 L89.63,220.26 L89.99,219.98 L90.35,219.69 L90.71,219.40 L91.07,219.10 L91.43,218.79 L91.79,218.48 L92.15,218.15 L92.51,217.82 L92.88,217.48 L93.24,217.13 L93.60,216.77 L93.96,216.41 L94.32,216.03 L94.68,215.64 L95.04,215.25 L95.40,214.85 L95.76,214.43 L96.12,214.01 L96.48,213.58 L96.84,213.14 L97.20,212.69 L97.56,212.22 L97.93,211.75 L98.29,211.27 L98.65,210.78 L99.01,210.28 L99.37,209.77 L99.73,209.25 L100.09,208.73 L100.45,208.19 L100.81,207.64 L101.17,207.08 L101.53,206.51 L101.89,205.93 L102.25,205.34 L102.61,204.74 L102.98,204.13 L103.34,203.51 L103.70,202.88 L104.06,202.24 L104.42,201.59 L104.78,200.93 L105.14,200.26 L105.50,199.58 L106.31,198.01 L107.12,196.38 L107.92,194.70 L108.73,192.97 L109.54,191.18 L110.35,189.34 L111.16,187.45 L111.97,185.50 L112.77,183.51 L113.58,181.48 L114.39,179.39 L115.20,177.27 L116.01,175.10 L116.82,172.90 L117.62,170.66 L118.43,168.39 L119.24,166.09 L120.05,163.76 L120.86,161.41 L121.67,159.03 L122.47,156.64 L123.28,154.23 L124.09,151.81 L124.90,149.38 L125.71,146.95 L126.52,144.51 L127.32,142.08 L128.13,139.65 L128.94,137.22 L129.75,134.81 L130.56,132.40 L131.36,130.02 L132.17,127.65 L132.98,125.29 L133.79,122.97 L134.60,120.66 L135.41,118.38 L136.21,116.13 L137.02,113.91 L137.83,111.72 L138.64,109.57 L139.45,107.45 L140.26,105.36 L141.06,103.31 L141.87,101.30 L142.68,99.32 L143.49,97.39 L144.30,95.49 L145.11,93.64 L145.91,91.82 L146.72,90.04 L147.53,88.31 L148.34,86.61 L149.15,84.95 L149.95,83.34 L150.76,81.76 L151.57,80.22 L152.38,78.73 L153.19,77.27 L154.00,75.85 L154.80,74.46 L155.61,73.12 L156.42,71.81 L157.23,70.53 L158.04,69.30 L158.85,68.09 L159.65,66.92 L160.46,65.79 L161.27,64.70 L162.08,63.65 L162.89,62.64 L163.70,61.67 L164.50,60.73 L165.31,59.83 L166.12,58.96 L166.93,58.12 L167.74,57.31 L168.55,56.52 L169.35,55.76 L170.16,55.03 L170.97,54.31 L171.78,53.61 L172.59,52.93 L173.39,52.27 L174.20,51.64 L175.01,51.02 L175.82,50.42 L176.63,49.84 L177.44,49.28 L178.24,48.73 L179.05,48.20 L179.86,47.68 L180.67,47.18 L181.48,46.69 L182.29,46.21 L183.09,45.74 L183.90,45.29 L184.71,44.85 L185.52,44.42 L186.33,44.01 L187.14,43.61 L187.94,43.22 L188.75,42.84 L189.56,42.47 L190.37,42.12 L191.18,41.77 L191.98,41.44 L192.79,41.12 L193.60,40.81 L194.41,40.51 L195.22,40.22 L196.03,39.95 L196.83,39.69 L197.64,39.45 L198.45,39.22 L199.26,39.00 L200.07,38.79 L200.88,38.60 L201.68,38.41 L202.49,38.22 L203.30,38.04 L204.11,37.86 L204.92,37.69 L205.73,37.51 L206.53,37.33 L207.34,37.15 L208.15,36.97 L208.96,36.79 L209.77,36.61 L210.58,36.44 L211.38,36.28 L212.19,36.11 L213.00,35.95 L213.81,35.79 L214.62,35.62 L215.42,35.46 L216.23,35.30 L217.04,35.13 L217.85,34.97 L218.66,34.82 L219.47,34.66 L220.27,34.51 L221.08,34.36 L221.89,34.22 L222.70,34.08 L223.51,33.95 L224.32,33.82 L225.12,33.70 L225.93,33.58 L226.74,33.46 L227.55,33.34 L228.36,33.23 L229.17,33.12 L229.97,33.01 L230.78,32.90 L231.59,32.80 L232.40,32.70 L233.21,32.60 L234.02,32.50 L234.82,32.41 L235.63,32.31 L236.44,32.22 L237.25,32.14 L238.06,32.05 L238.86,31.97 L239.67,31.89 L240.48,31.81 L241.29,31.73 L242.10,31.66 L242.91,31.59 L243.71,31.52 L244.52,31.45 L245.33,31.39 L246.14,31.33 L246.95,31.27 L247.76,31.21 L248.56,31.16 L249.37,31.10 L250.18,31.05 L250.99,30.99 L251.80,30.93 L252.61,30.86 L253.41,30.80 L254.22,30.73 L255.03,30.66 L255.84,30.60 L256.65,30.53 L257.45,30.47 L258.26,30.41 L259.07,30.36 L259.88,30.30 L260.69,30.26 L261.50,30.22 L262.30,30.18 L263.11,30.14 L263.92,30.11 L264.73,30.07 L265.54,30.04 L266.35,30.00 L267.15,29.97 L267.96,29.94 L268.77,29.91 L269.58,29.88 L270.39,29.85 L271.20,29.82 L272.00,29.79 L272.81,29.76 L273.62,29.74 L274.43,29.71 L275.24,29.68 L276.05,29.66 L276.85,29.63 L277.66,29.60 L278.47,29.58 L279.28,29.55 L280.09,29.52 L280.89,29.50 L281.70,29.47 L282.51,29.45 L283.32,29.42 L284.13,29.39 L284.94,29.37 L285.74,29.34 L286.55,29.31 L287.36,29.29 L288.17,29.26 L288.98,29.23 L289.79,29.21 L290.59,29.18 L291.40,29.15 L292.21,29.13 L293.02,29.10 L293.83,29.07 L294.64,29.05 L295.44,29.02 L296.25,28.99 L297.06,28.97 L297.87,28.94 L298.68,28.91 L299.48,28.89 L300.29,28.86 L301.10,28.84 L301.91,28.81 L302.72,28.79 L303.53,28.76 L304.33,28.73 L305.14,28.71 L305.95,28.68 L306.76,28.66 L307.57,28.64 L308.38,28.61 L309.18,28.59 L309.99,28.56 L310.80,28.54 L311.61,28.52 L312.42,28.49 L313.23,28.47 L314.03,28.45 L314.84,28.43 L315.65,28.40 L316.46,28.38 L317.27,28.36 L318.08,28.34 L318.88,28.32 L319.69,28.30 L320.50,28.28 L321.31,28.26 L322.12,28.24 L322.92,28.23 L323.73,28.21 L324.54,28.19 L325.35,28.17 L326.16,28.16 L326.97,28.14 L327.77,28.12 L328.58,28.11 L329.39,28.10 L330.20,28.08 L331.01,28.07 L331.82,28.06 L332.62,28.04 L333.43,28.03 L334.24,28.02 L335.05,28.01 L335.86,27.99 L336.67,27.98 L337.47,27.97 L338.28,27.96 L339.09,27.95 L339.90,27.94 L340.71,27.93 L341.52,27.91 L342.32,27.90 L343.13,27.89 L343.94,27.88 L344.75,27.87 L345.56,27.86 L346.36,27.85 L347.17,27.84 L347.98,27.83 L348.79,27.82 L349.60,27.81 L350.41,27.80 L351.21,27.79 L352.02,27.78 L352.83,27.77 L353.64,27.76 L354.45,27.75 L355.26,27.74 L356.06,27.73 L356.87,27.72 L357.68,27.72 L358.49,27.71 L359.30,27.70 L360.11,27.69 L360.91,27.68 L361.72,27.68 L362.53,27.67 L363.34,27.66 L364.15,27.65 L364.95,27.65 L365.76,27.64 L366.57,27.63 L367.38,27.63 L368.19,27.62 L369.00,27.62 L369.80,27.61 L370.61,27.61 L371.42,27.60 L372.23,27.60 L373.04,27.59 L373.85,27.59 L374.65,27.58 L375.46,27.58 L376.27,27.57 L377.08,27.57 L377.89,27.57 L378.70,27.56 L379.50,27.56 L380.31,27.56 L381.12,27.56 L381.93,27.55 L382.74,27.55 L383.55,27.55 L384.35,27.55 L385.16,27.54 L385.97,27.54 L386.78,27.54 L387.59,27.54 L388.39,27.54 L389.20,27.53 L390.01,27.53 L390.82,27.53 L391.63,27.53 L392.44,27.53 L393.24,27.52 L394.05,27.52 L394.86,27.52 L395.67,27.52 L396.48,27.52 L397.29,27.51 L398.09,27.51 L398.90,27.51 L399.71,27.51 L400.52,27.51 L401.33,27.50 L402.14,27.50 L402.94,27.50 L403.75,27.50 L404.56,27.50 L405.37,27.50 L406.18,27.49 L406.98,27.49 L407.79,27.49 L408.60,27.49 L409.41,27.49 L410.22,27.49 L411.03,27.49 L411.83,27.48 L412.64,27.48 L413.45,27.48 L414.26,27.48 L415.07,27.48 L415.88,27.48 L416.68,27.48 L417.49,27.47 L418.30,27.47 L419.11,27.47 L419.92,27.47 L420.73,27.47 L421.53,27.47 L422.34,27.47 L423.15,27.47 L423.96,27.46 L424.77,27.46 L425.58,27.46 L426.38,27.46 L427.19,27.46 L428.00,27.46 L428.60,27.46" stroke="#00f" stroke-dasharray="4.6 2.5"/>
</g>
<rect x="45.5" y="13.5" width="390.0" height="241.5" fill="none" stroke="#666" stroke-width="0.5"/>
<path d="M52.23,255.0 v-2.9 M52.23,13.5 v2.9 M62.95,255.0 v-1.7 M62.95,13.5 v1.7 M73.68,255.0 v-1.7 M73.68,13.5 v1.7 M84.40,255.0 v-1.7 M84.40,13.5 v1.7 M95.13,255.0 v-1.7 M95.13,13.5 v1.7 M105.85,255.0 v-2.9 M105.85,13.5 v2.9 M116.57,255.0 v-1.7 M116.57,13.5 v1.7 M127.30,255.0 v-1.7 M127.30,13.5 v1.7 M138.02,255.0 v-1.7 M138.02,13.5 v1.7 M148.75,255.0 v-1.7 M148.75,13.5 v1.7 M159.47,255.0 v-2.9 M159.47,13.5 v2.9 M170.19,255.0 v-1.7 M170.19,13.5 v1.7 M180.92,255.0 v-1.7 M180.92,13.5 v1.7 M191.64,255.0 v-1.7 M191.64,13.5 v1.7 M202.37,255.0 v-1.7 M202.37,13.5 v1.7 M213.09,255.0 v-2.9 M213.09,13.5 v2.9 M223.81,255.0 v-1.7 M223.81,13.5 v1.7 M234.54,255.0 v-1.7 M234.54,13.5 v1.7 M245.26,255.0 v-1.7 M245.26,13.5 v1.7 M255.99,255.0 v-1.7 M255.99,13.5 v1.7 M266.71,255.0 v-2.9 M266.71,13.5 v2.9 M277.43,255.0 v-1.7 M277.43,13.5 v1.7 M288.16,255.0 v-1.7 M288.16,13.5 v1.7 M298.88,255.0 v-1.7 M298.88,13.5 v1.7 M309.61,255.0 v-1.7 M309.61,13.5 v1.7 M320.33,255.0 v-2.9 M320.33,13.5 v2.9 M331.05,255.0 v-1.7 M331.05,13.5 v1.7 M341.78,255.0 v-1.7 M341.78,13.5 v1.7 M352.50,255.0 v-1.7 M352.50,13.5 v1.7 M363.23,255.0 v-1.7 M363.23,13.5 v1.7 M373.95,255.0 v-2.9 M373.95,13.5 v2.9 M384.67,255.0 v-1.7 M384.67,13.5 v1.7 M395.40,255.0 v-1.7 M395.40,13.5 v1.7 M406.12,255.0 v-1.7 M406.12,13.5 v1.7 M416.85,255.0 v-1.7 M416.85,13.5 v1.7 M427.57,255.0 v-2.9 M427.57,13.5 v2.9 M45.5,255.12 h1.7 M435.5,255.12 h-1.7 M45.5,241.71 h1.7 M435.5,241.71 h-1.7 M45.5,228.30 h2.4 M435.5,228.30 h-2.4 M45.5,214.89 h1.7 M435.5,214.89 h-1.7 M45.5,201.48 h1.7 M435.5,201.48 h-1.7 M45.5,188.07 h1.7 M435.5,188.07 h-1.7 M45.5,174.66 h1.7 M435.5,174.66 h-1.7 M45.5,161.25 h2.4 M435.5,161.25 h-2.4 M45.5,147.84 h1.7 M435.5,147.84 h-1.7 M45.5,134.43 h1.7 M435.5,134.43 h-1.7 M45.5,121.02 h1.7 M435.5,121.02 h-1.7 M45.5,107.61 h1.7 M435.5,107.61 h-1.7 M45.5,94.20 h2.4 M435.5,94.20 h-2.4 M45.5,80.79 h1.7 M435.5,80.79 h-1.7 M45.5,67.38 h1.7 M435.5,67.38 h-1.7 M45.5,53.97 h1.7 M435.5,53.97 h-1.7 M45.5,40.56 h1.7 M435.5,40.56 h-1.7 M45.5,27.15 h2.4 M435.5,27.15 h-2.4 M45.5,13.74 h1.7 M435.5,13.74 h-1.7" stroke="#5a5a5a" stroke-width="0.85" fill="none"/>
<text class="tl" transform="translate(52.23,265.3) scale(0.91,1)" text-anchor="middle">−1</text>
<text class="tl" transform="translate(105.85,265.3) scale(0.91,1)" text-anchor="middle">0</text>
<text class="tl" transform="translate(159.47,265.3) scale(0.91,1)" text-anchor="middle">1</text>
<text class="tl" transform="translate(213.09,265.3) scale(0.91,1)" text-anchor="middle">2</text>
<text class="tl" transform="translate(266.71,265.3) scale(0.91,1)" text-anchor="middle">3</text>
<text class="tl" transform="translate(320.33,265.3) scale(0.91,1)" text-anchor="middle">4</text>
<text class="tl" transform="translate(373.95,265.3) scale(0.91,1)" text-anchor="middle">5</text>
<text class="tl" transform="translate(427.57,265.3) scale(0.91,1)" text-anchor="middle">6</text>
<text class="tl" transform="translate(42.2,29.95) scale(0.91,1)" text-anchor="end">0.5</text>
<text class="tl" transform="translate(42.2,97.00) scale(0.91,1)" text-anchor="end">0.0</text>
<text class="tl" transform="translate(42.2,164.05) scale(0.91,1)" text-anchor="end">−0.5</text>
<text class="tl" transform="translate(42.2,231.10) scale(0.91,1)" text-anchor="end">−1.0</text>
<text x="240.0" y="284.7" text-anchor="middle" font-size="12.9" stroke="#000" stroke-width="0.5">z</text>
<text transform="translate(15.35,135.2) rotate(-90)" text-anchor="middle" font-size="17.6" stroke="#000" stroke-width="0.45">q</text>
<text class="lg" x="160.5" y="10.3" textLength="159.7" lengthAdjust="spacingAndGlyphs">{<tspan class="it">H</tspan><tspan font-size="8.6" dy="1.9">0</tspan><tspan dy="-1.9">=67.9, Ω</tspan><tspan class="it" font-size="8.6" dy="1.9">m</tspan><tspan dy="-1.9">=0.3, n=0.005, </tspan><tspan class="it">ω</tspan>=10}</text>
<g fill="none">
<line x1="255.2" x2="315.8" y1="174.6" y2="174.6" stroke="#808080" stroke-width="1.8"/>
<line x1="255.2" x2="315.8" y1="194.7" y2="194.7" stroke="#000" stroke-width="1.8" stroke-dasharray="2.5 1.55"/>
<line x1="255.2" x2="315.8" y1="215.0" y2="215.0" stroke="#f00" stroke-width="2" stroke-dasharray="2.1 1.9 5.5 1.8"/>
<line x1="255.2" x2="315.8" y1="235.0" y2="235.0" stroke="#3c3cff" stroke-width="2" stroke-dasharray="4.4 2.62"/>
</g>
<text class="lg" x="321.5" y="177.70" textLength="104.2" lengthAdjust="spacingAndGlyphs"><tspan class="it">κ</tspan>=4500,<tspan class="it">ϕ</tspan><tspan font-size="8.6" dy="1.9">0</tspan><tspan dy="-1.9">=0.9,c=0.52</tspan></text>
<text class="lg" x="321.5" y="197.60" textLength="104.2" lengthAdjust="spacingAndGlyphs"><tspan class="it">κ</tspan>=3500,<tspan class="it">ϕ</tspan><tspan font-size="8.6" dy="1.9">0</tspan><tspan dy="-1.9">=1.1,c=0.42</tspan></text>
<text class="lg" x="321.5" y="217.50" textLength="104.2" lengthAdjust="spacingAndGlyphs"><tspan class="it">κ</tspan>=3000,<tspan class="it">ϕ</tspan><tspan font-size="8.6" dy="1.9">0</tspan><tspan dy="-1.9">=1.3,c=0.32</tspan></text>
<text class="lg" x="321.5" y="237.40" textLength="104.2" lengthAdjust="spacingAndGlyphs"><tspan class="it">κ</tspan>=2500,<tspan class="it">ϕ</tspan><tspan font-size="8.6" dy="1.9">0</tspan><tspan dy="-1.9">=1.5,c=0.25</tspan></text>
</svg></body></html>
